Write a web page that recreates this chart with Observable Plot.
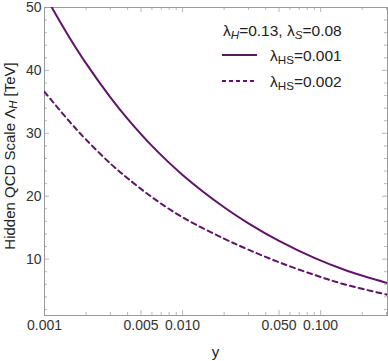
<!DOCTYPE html>
<html><head><meta charset="utf-8">
<script src="https://cdn.jsdelivr.net/npm/d3@7"></script>
<script src="https://cdn.jsdelivr.net/npm/@observablehq/plot@0.6"></script>
<style>body{margin:0;background:#fff;} #chart{width:388px;height:361px;}</style>
</head><body><div id="chart"></div>
<script>
// Data
const ySolid = [0.00113, 0.0015, 0.002, 0.003, 0.004, 0.006, 0.01, 0.02, 0.03, 0.05, 0.09, 0.15, 0.305];
const lambdaSolid = [50, 45.39, 41.11, 35.71, 32.29, 28.0, 23.39, 18.24, 15.69, 12.89, 10.19, 8.27, 6.18];
const yDashed = [0.001, 0.0015, 0.002, 0.003, 0.004, 0.006, 0.01, 0.02, 0.03, 0.05, 0.09, 0.15, 0.305];
const lambdaDashed = [36.6, 32.0, 29.0, 25.2, 22.85, 19.85, 16.65, 13.25, 11.5, 9.5, 7.5, 5.97, 4.34];

const xMajorTicks = [0.001, 0.005, 0.01, 0.05, 0.1];
const xTickLabels = ["0.001", "0.005", "0.010", "0.050", "0.100"];
const xMinorTicks = [0.002,0.003,0.004,0.006,0.007,0.008,0.009,0.02,0.03,0.04,0.06,0.07,0.08,0.09,0.2,0.3];
const yMajorTicks = [10, 20, 30, 40, 50];
const yMinorTicks = [2,4,6,8,12,14,16,18,22,24,26,28,32,34,36,38,42,44,46,48];

const W = 388, H = 361, mL = 44, mR = 1, mT = 7, mB = 46;
const FH = H - mT - mB, FW = W - mL - mR;
const purple = "#601468";
const tickColor = "#b8b8b8";
const font = "'Liberation Sans', Arial, sans-serif";

const solidRows = ySolid.map((x, i) => ({x, v: lambdaSolid[i]}));
const dashedRows = yDashed.map((x, i) => ({x, v: lambdaDashed[i]}));

const majLen = 5, minLen = 3;
const plot = Plot.plot({
  width: W, height: H,
  marginLeft: mL, marginRight: mR, marginTop: mT, marginBottom: mB,
  x: {type: "log", domain: [0.001, 0.305], axis: null},
  y: {domain: [1.04, 50], axis: null},
  style: {fontFamily: font, fontSize: "14px", color: "#333", background: "#fff"},
  marks: [
    Plot.ruleX(xMajorTicks, {x: d => d, insetTop: FH - majLen, stroke: tickColor}),
    Plot.ruleX(xMinorTicks, {x: d => d, insetTop: FH - minLen, stroke: tickColor}),
    Plot.ruleX(xMajorTicks, {x: d => d, insetBottom: FH - majLen, stroke: tickColor}),
    Plot.ruleX(xMinorTicks, {x: d => d, insetBottom: FH - minLen, stroke: tickColor}),
    Plot.ruleY(yMajorTicks, {y: d => d, insetRight: FW - majLen, stroke: tickColor}),
    Plot.ruleY(yMinorTicks, {y: d => d, insetRight: FW - minLen, stroke: tickColor}),
    Plot.ruleY(yMajorTicks, {y: d => d, insetLeft: FW - majLen, stroke: tickColor}),
    Plot.ruleY(yMinorTicks, {y: d => d, insetLeft: FW - minLen, stroke: tickColor}),
    Plot.frame({stroke: "#9a9a9a"}),
    Plot.text(xMajorTicks, {x: d => d, text: (d, i) => xTickLabels[i], frameAnchor: "bottom", lineAnchor: "top", dy: 5, fontSize: 14, fill: "#333"}),
    Plot.text(yMajorTicks, {y: d => d, text: d => String(d), frameAnchor: "left", textAnchor: "end", dx: -3, fontSize: 14, fill: "#333"}),
    Plot.line(solidRows, {x: "x", y: "v", stroke: purple, strokeWidth: 2, curve: "catmull-rom", clip: true}),
    Plot.line(dashedRows, {x: "x", y: "v", stroke: purple, strokeWidth: 2, strokeDasharray: "5,4", curve: "catmull-rom", clip: true})
  ]
});

const svg = d3.select(plot);
function subText(g, x, y, parts, opts = {}) {
  const size = opts.size || 14;
  const t = g.append("text").attr("x", x).attr("y", y)
    .attr("fill", "#222").attr("font-size", size)
    .attr("font-family", font)
    .attr("dominant-baseline", "central")
    .attr("text-anchor", opts.anchor || "start");
  if (opts.transform) t.attr("transform", opts.transform);
  for (const p of parts) {
    const s = t.append("tspan").text(p.t);
    if (p.sub) {
      s.attr("font-size", size * 0.75).attr("dy", 4);
      if (p.italic) s.attr("font-style", "italic");
    } else if (p.after) {
      s.attr("dy", -4);
    }
  }
  return t;
}
svg.append("text").attr("x", mL + FW / 2).attr("y", 351).attr("text-anchor", "middle")
  .attr("dominant-baseline", "central").attr("font-size", 15).attr("font-family", font).attr("fill", "#222").text("y");
subText(svg, 0, 0, [{t: "Hidden QCD Scale Λ"}, {t: "H", sub: true, italic: true}, {t: " [TeV]", after: true}],
  {size: 15, anchor: "middle", transform: `translate(9,156) rotate(-90)`});

// legend
subText(svg, 223, 30, [{t: "λ"}, {t: "H", sub: true, italic: true}, {t: "=0.13, λ", after: true}, {t: "S", sub: true, italic: true}, {t: "=0.08", after: true}], {size: 15.5});
svg.append("line").attr("x1", 222).attr("x2", 257).attr("y1", 55).attr("y2", 55).attr("stroke", purple).attr("stroke-width", 2);
subText(svg, 270, 55, [{t: "λ"}, {t: "HS", sub: true}, {t: "=0.001", after: true}], {size: 15.5});
svg.append("line").attr("x1", 222).attr("x2", 257).attr("y1", 81).attr("y2", 81).attr("stroke", purple).attr("stroke-width", 2).attr("stroke-dasharray", "4,3");
subText(svg, 270, 81, [{t: "λ"}, {t: "HS", sub: true}, {t: "=0.002", after: true}], {size: 15.5});

document.getElementById("chart").appendChild(plot);
</script></body></html>
